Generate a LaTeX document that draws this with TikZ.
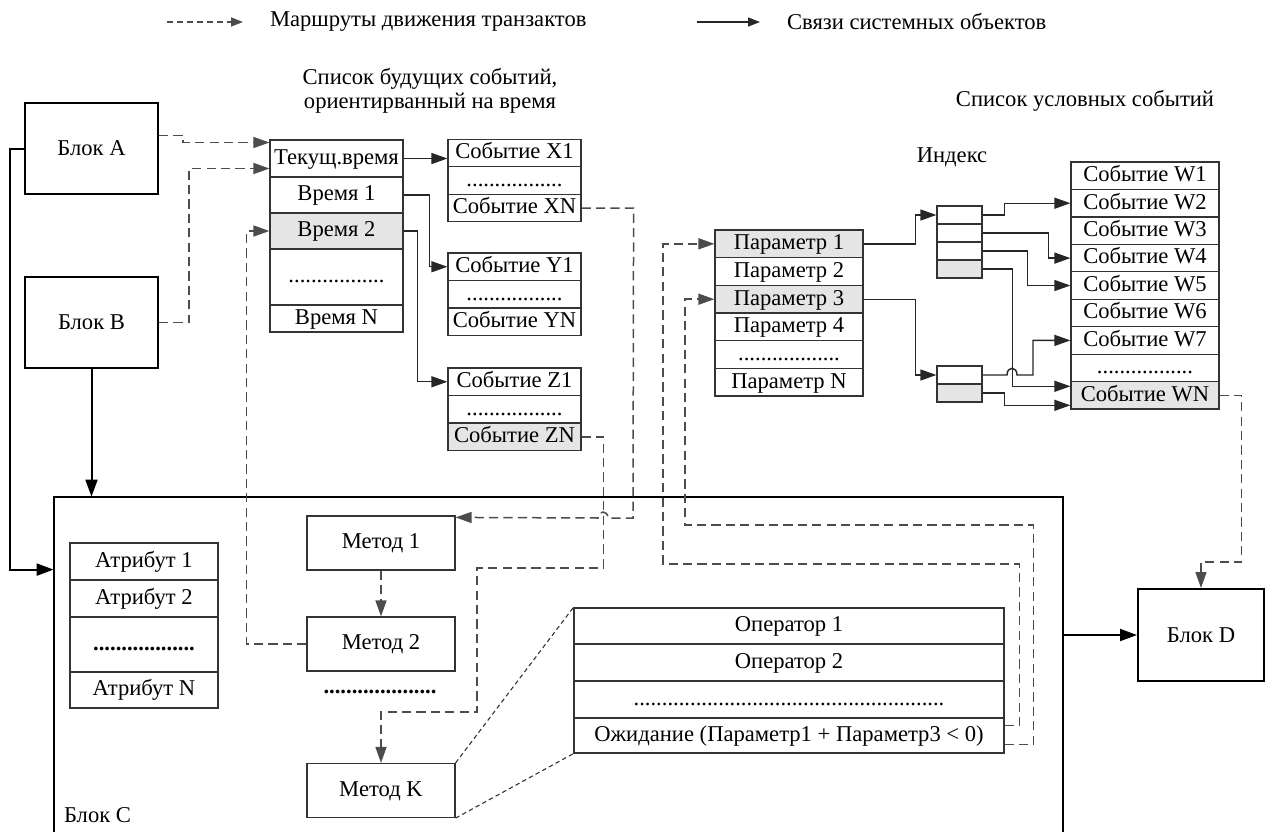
\documentclass[tikz,border=0pt]{standalone}
\usepackage{fontspec}
\setmainfont{Liberation Serif}
\usetikzlibrary{calc,arrows.meta}

\begin{document}
\begin{tikzpicture}[x=0.5pt,y=-0.5pt,
  every node/.style={font=\fontsize{11.3}{13}\selectfont},
  cell/.style={draw=black!80, line width=0.6pt, rectangle, inner sep=0pt,
               text height=8pt, text depth=2.2pt, align=center},
  shaded/.style={fill=black!10},
  idx/.style={draw=black!80, line width=0.6pt, rectangle, inner sep=0pt,
              minimum width=22.5pt, minimum height=9pt},
  blk/.style={draw=black, line width=1pt, rectangle, inner sep=0pt},
  blkline/.style={draw=black, line width=1pt},
  link/.style={draw=black!85, line width=0.7pt, -{Triangle[length=8pt,width=5.5pt]}},
  blklink/.style={draw=black, line width=1pt, -{Triangle[length=8.5pt,width=6pt]}},
  route/.style={draw=black!70, line width=0.75pt, dash pattern=on 4.6pt off 2.6pt,
                -{Triangle[length=8pt,width=5.5pt]}},
  finedash/.style={draw=black!80, line width=0.55pt, dash pattern=on 2.2pt off 1.6pt},
]
\useasboundingbox (0,0) rectangle (1265,831);
\clip (0,0) rectangle (1265,831);

% ---------- legend ----------
\coordinate (lgDa) at (167,22);
\coordinate (lgDb) at (243,22);
\node[anchor=west] (lgD) at (263,22) {Маршруты движения транзактов};
\draw[route, dash pattern=on 3pt off 2pt, -{Triangle[length=6pt,width=4.5pt]}] (lgDa) -- (lgDb);
\coordinate (lgSa) at (697,22);
\coordinate (lgSb) at (760,22);
\node[anchor=west] (lgS) at (780,22) {Связи системных объектов};
\draw[link, -{Triangle[length=6pt,width=4.5pt]}] (lgSa) -- (lgSb);

% ---------- titles ----------
\node[align=center, font=\fontsize{11.3}{11.8}\selectfont] (ttlFut) at (430,91)
  {Список будущих событий,\\ориентирванный на время};
\node (ttlCond) at (1085,101) {Список условных событий};
\node (ttlIdx) at (952,157) {Индекс};

% ---------- blocks A, B, D ----------
\node[blk, minimum width=66.5pt, minimum height=45.5pt] (bA) at (91.5,148.5) {Блок A};
\node[blk, minimum width=66.5pt, minimum height=45.5pt] (bB) at (91.5,322.5) {Блок B};
\node[blk, minimum width=63pt, minimum height=46pt] (bD) at (1201,635) {Блок D};

% ---------- block C (frame runs past the lower edge) ----------
\node[draw=none, minimum width=504.5pt, minimum height=181.5pt, inner sep=0pt] (blkC) at (558.5,678.5) {};
\draw[blkline] (blkC.south west) -- (blkC.north west) -- (blkC.north east) -- (blkC.south east);
\node[anchor=west] (lblC) at (57,815) {Блок C};

% ---------- future events list ----------
\node[cell, minimum width=66.5pt, minimum height=18.5pt] (t0) at (336.5,158.5) {Текущ.время};
\node[cell, minimum width=66.5pt, minimum height=18pt] (t1) at (336.5,195) {Время 1};
\node[cell, shaded, minimum width=66.5pt, minimum height=18pt] (t2) at (336.5,231) {Время 2};
\node[cell, minimum width=66.5pt, minimum height=28pt] (t3) at (336.5,277) {.................};
\node[cell, minimum width=66.5pt, minimum height=13.5pt] (tN) at (336.5,318.5) {Время N};

\node[cell, minimum width=66.5pt, minimum height=13.75pt] (x1) at (514.5,153) {Событие X1};
\node[cell, minimum width=66.5pt, minimum height=13.75pt] (xd) at (514.5,180.5) {.................};
\node[cell, minimum width=66.5pt, minimum height=13.75pt] (xN) at (514.5,208) {Событие XN};

\node[cell, minimum width=66.5pt, minimum height=13.75pt] (y1) at (514.5,266.75) {Событие Y1};
\node[cell, minimum width=66.5pt, minimum height=13.75pt] (yd) at (514.5,294.25) {.................};
\node[cell, minimum width=66.5pt, minimum height=13.75pt] (yN) at (514.5,321.75) {Событие YN};

\node[cell, minimum width=66.5pt, minimum height=13.75pt] (z1) at (514.5,381.75) {Событие Z1};
\node[cell, minimum width=66.5pt, minimum height=13.75pt] (zd) at (514.5,409.25) {.................};
\node[cell, shaded, minimum width=66.5pt, minimum height=13.75pt] (zN) at (514.5,436.75) {Событие ZN};

% ---------- parameters ----------
\node[cell, shaded, minimum width=74pt, minimum height=13.85pt] (p1) at (789,243.8) {Параметр 1};
\node[cell, minimum width=74pt, minimum height=13.85pt] (p2) at (789,271.5) {Параметр 2};
\node[cell, shaded, minimum width=74pt, minimum height=13.85pt] (p3) at (789,299.2) {Параметр 3};
\node[cell, minimum width=74pt, minimum height=13.85pt] (p4) at (789,326.8) {Параметр 4};
\node[cell, minimum width=74pt, minimum height=13.85pt] (pd) at (789,354.5) {..................};
\node[cell, minimum width=74pt, minimum height=13.85pt] (pN) at (789,382.2) {Параметр N};

% ---------- index ----------
\node[idx] (i11) at (959.5,215) {};
\node[idx] (i12) at (959.5,233) {};
\node[idx] (i13) at (959.5,251) {};
\node[idx, shaded] (i14) at (959.5,269) {};
\node[idx] (i21) at (959.5,375) {};
\node[idx, shaded] (i22) at (959.5,393) {};

% ---------- conditional events list ----------
\node[cell, minimum width=74pt, minimum height=13.72pt] (w1) at (1145,175.7) {Событие W1};
\node[cell, minimum width=74pt, minimum height=13.72pt] (w2) at (1145,203.2) {Событие W2};
\node[cell, minimum width=74pt, minimum height=13.72pt] (w3) at (1145,230.6) {Событие W3};
\node[cell, minimum width=74pt, minimum height=13.72pt] (w4) at (1145,258.1) {Событие W4};
\node[cell, minimum width=74pt, minimum height=13.72pt] (w5) at (1145,285.5) {Событие W5};
\node[cell, minimum width=74pt, minimum height=13.72pt] (w6) at (1145,313.0) {Событие W6};
\node[cell, minimum width=74pt, minimum height=13.72pt] (w7) at (1145,340.4) {Событие W7};
\node[cell, minimum width=74pt, minimum height=13.72pt] (wd) at (1145,367.9) {.................};
\node[cell, shaded, minimum width=74pt, minimum height=13.72pt] (wN) at (1145,395.3) {Событие WN};

% ---------- attributes ----------
\node[cell, minimum width=74pt, minimum height=18.5pt] (a1) at (144,561.5) {Атрибут 1};
\node[cell, minimum width=74pt, minimum height=18.5pt] (a2) at (144,598.5) {Атрибут 2};
\node[cell, minimum width=74pt, minimum height=27.5pt] (ad) at (144,644.5) {\textbf{..................}};
\node[cell, minimum width=74pt, minimum height=18pt] (aN) at (144,690) {Атрибут N};

% ---------- methods ----------
\node[cell, minimum width=74pt, minimum height=27pt] (m1) at (381,543) {Метод 1};
\node[cell, minimum width=74pt, minimum height=27pt] (m2) at (381,644) {Метод 2};
\node[anchor=base] (md) at (380,693) {\textbf{....................}};
\node[cell, minimum width=74pt, minimum height=27pt] (mK) at (381,790.5) {Метод K};

% ---------- operators ----------
\node[cell, minimum width=215pt, minimum height=18pt] (op1) at (789,626) {Оператор 1};
\node[cell, minimum width=215pt, minimum height=18.5pt] (op2) at (789,662.5) {Оператор 2};
\node[cell, minimum width=215pt, minimum height=18.5pt] (op3) at (789,699.5) {.......................................................};
\node[cell, minimum width=215pt, minimum height=17.5pt] (op4) at (789,735.5) {Ожидание (Параметр1 + Параметр3 < 0)};

\draw[finedash] (mK.north east) -- (op1.north west);
\draw[finedash] (mK.south east) -- (op4.south west);

% ---------- system links ----------
\draw[link] (t0.east) -- (t0.east -| x1.west);
\draw[link] (t1.east) -- ++(26,0) |- (y1.west);
\draw[link] (t2.east) -- ++(14,0) |- (z1.west);

\draw[link] (p1.east) -- ++(52,0) |- (i11.west);
\draw[link] (p3.east) -- ++(52,0) |- (i21.west);

\draw[link] (i11.east) -- ++(22,0) |- (w2.west);
\draw[link] (i12.east) -- ++(66,0) |- (w4.west);
\draw[link] (i13.east) -- ++(45,0) |- (w5.west);
\draw[link] (i14.east) -- ++(30,0) |- ($(wN.west)+(0,-9)$);
\draw[link] (i21.east) -- (1007,375) .. controls (1007,366) and (1017,366) .. (1017,375)
  -- (1033,375) |- (w7.west);
\draw[link] (i22.east) -- ++(22,0) |- ($(wN.west)+(0,10)$);

\draw[blklink] (bB.south) -- (bB.south |- blkC.north);
\draw[blklink] (bA.west) -- ++(-14,0) |- ($(blkC.north west)+(0,73)$);
\draw[blklink] (blkC.east |- bD.west) -- (bD.west);

% ---------- transaction routes ----------
\draw[route] ($(bA.east)+(0,-13)$) -- ++(24,0) |- ($(t0.west)+(0,-16)$);
\draw[route] (bB.east) -- ++(30,0) |- ($(t0.west)+(0,10)$);
\draw[route] (m2.west) -- ++(-60,0) |- (t2.west);
\draw[route] (xN.east) -- ++(52,0) -- (633,518) -- (608,518)
  .. controls (608,510) and (598,510) .. (598,518) -- ($(m1.north east)+(0,2)$);
\draw[route] (zN.east) -- ++(22,0) -- ++(0,131) -| (477,712) -| (mK.north);
\draw[route] (m1.south) -- (m2.north);
\draw[route] ($(op4.east)+(0,-10)$) -- ++(15,0) |- (663,564) |- (p1.west);
\draw[route] ($(op4.east)+(0,9)$) -- ++(29,0) |- (685,525) |- (p3.west);
\draw[route] (wN.east) -- ++(22,0) |- ($(bD.north)+(0,-26)$) -- (bD.north);
\end{tikzpicture}
\end{document}
